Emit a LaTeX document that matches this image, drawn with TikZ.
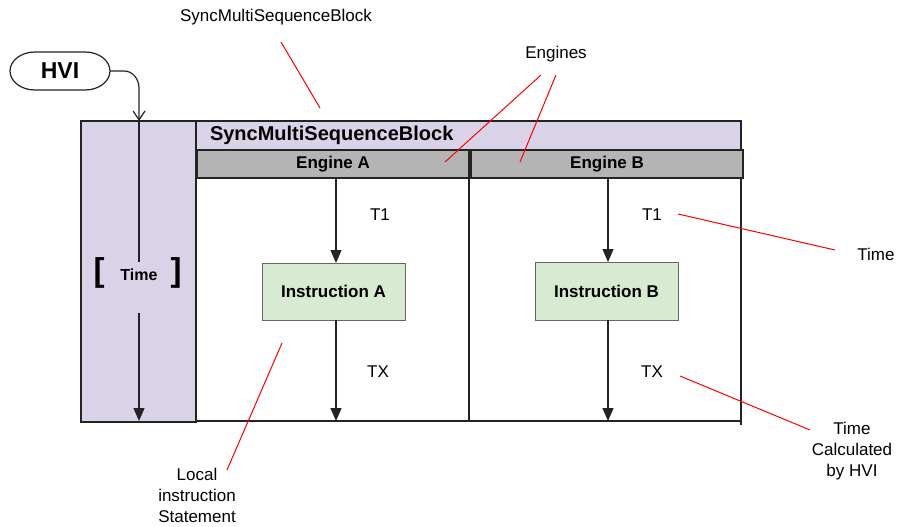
\documentclass[tikz,border=0pt]{standalone}
\usepackage{fontspec}
\setmainfont{Liberation Sans}
\usetikzlibrary{arrows.meta,shapes.misc}
\definecolor{lav}{RGB}{218,211,232}
\definecolor{eng}{RGB}{180,180,180}
\definecolor{ins}{RGB}{217,234,211}
\definecolor{ln}{RGB}{35,35,35}
\begin{document}
\begin{tikzpicture}[x=1pt,y=-1pt,
  every node/.style={inner sep=0pt,outer sep=0pt},
  box/.style={draw=ln,line width=1.4pt,rectangle},
  lbl/.style={font=\fontsize{17}{21}\selectfont,align=center},
  blbl/.style={font=\fontsize{17}{21}\selectfont\bfseries},
  ann/.style={red,line width=1pt},
  flow/.style={ln,line width=1.3pt,-{Triangle[length=13pt,width=11pt]}}]
\useasboundingbox (0,0) rectangle (898,527);

% HVI
\node[minimum width=100pt,minimum height=38pt,
  font=\fontsize{23}{27}\selectfont\bfseries] (hvi) at (60,71) {HVI};
\draw[ln,line width=1.2pt] (35,52) -- (85,52) arc[start angle=90,end angle=-90,x radius=25,y radius=-19]
  -- (35,90) arc[start angle=270,end angle=90,x radius=25,y radius=-19] -- cycle;

% left column
\node[box,fill=lav,minimum width=115pt,minimum height=301pt] (col) at (138.5,271.5) {};
% header
\node[box,fill=lav,minimum width=545pt,minimum height=29pt] (hdr) at (468.5,135.5) {};
\node[font=\fontsize{20}{24}\selectfont\bfseries,anchor=west] (hdrt) at (210,135) {SyncMultiSequenceBlock};
% engines
\node[box,fill=eng,minimum width=272pt,minimum height=28pt,blbl] (engA) at (333,164) {Engine A};
\node[box,fill=eng,minimum width=272pt,minimum height=28pt,blbl] (engB) at (607,164) {Engine B};
% instructions
\node[draw=gray!80!black,line width=1pt,fill=ins,minimum width=143pt,minimum height=57pt,blbl] (insA) at (333.5,291.5) {Instruction A};
\node[draw=gray!80!black,line width=1pt,fill=ins,minimum width=143pt,minimum height=58pt,blbl] (insB) at (606.5,291) {Instruction B};

% frame lines
\coordinate (divT) at (469,178);
\coordinate (divB) at (469,421);
\coordinate (rT) at (741,178);
\coordinate (rB) at (741,425);
\coordinate (botL) at (196,421);
\coordinate (botR) at (741,421);
\draw[ln,line width=1.4pt] (divT) -- (divB);
\draw[ln,line width=1.4pt] (rT) -- (rB);
\draw[ln,line width=1.4pt] (botL) -- (botR);

% HVI arrow into column
\coordinate (hviIn) at (139,121);
\draw[ln,line width=1.2pt,-{Straight Barb[length=9pt,width=12pt]}] (hvi.east) -- (124,71) to[out=0,in=90] (139,88) -- (hviIn);

% Time in column
\node[font=\fontsize{33}{33}\selectfont\bfseries] (lb) at (99,273) {[};
\node[font=\fontsize{33}{33}\selectfont\bfseries] (rb) at (176,273) {]};
\node[font=\fontsize{16}{20}\selectfont\bfseries] (time) at (139,275) {Time};
\coordinate (tl1) at (139,262);
\coordinate (tl2) at (139,313);
\coordinate (tl3) at (139,421);
\draw[ln,line width=1.2pt] (hviIn) -- (tl1);
\draw[flow] (tl2) -- (tl3);

% flow arrows
\draw[flow] ([xshift=2.5pt]insA.north |- engA.south) -- ([xshift=2.5pt]insA.north);
\draw[flow] ([xshift=2.5pt]insA.south) -- ([xshift=2.5pt]insA.south |- botL);
\draw[flow] ([xshift=1.5pt]insB.north |- engB.south) -- ([xshift=1.5pt]insB.north);
\draw[flow] ([xshift=1.5pt]insB.south) -- ([xshift=1.5pt]insB.south |- botL);

% T1 / TX
\node[lbl] (t1a) at (380,215) {T1};
\node[lbl] (t1b) at (652,215) {T1};
\node[lbl] (txa) at (378,372) {TX};
\node[lbl] (txb) at (652,372) {TX};

% annotations
\node[lbl] (top) at (276,17) {SyncMultiSequenceBlock};
\node[lbl] (engines) at (556,54) {Engines};
\node[lbl] (timel) at (876,254) {Time};
\node[lbl] (calc) at (852,451) {Time\\Calculated\\by HVI};
\node[lbl] (local) at (197,495) {Local\\instruction\\Statement};

\coordinate (a1) at (281,42);  \coordinate (a2) at (320,108);
\coordinate (e0) at (541,75);  \coordinate (e1) at (445,162);
\coordinate (e2) at (556,75);  \coordinate (e3) at (520,162);
\coordinate (m1) at (678,214); \coordinate (m2) at (835,250);
\coordinate (c1) at (680,376); \coordinate (c2) at (810,430);
\coordinate (l1) at (282,343); \coordinate (l2) at (227,470);
\draw[ann] (a1) -- (a2);
\draw[ann] (e0) -- (e1);
\draw[ann] (e2) -- (e3);
\draw[ann] (m1) -- (m2);
\draw[ann] (c1) -- (c2);
\draw[ann] (l1) -- (l2);
\end{tikzpicture}
\end{document}
